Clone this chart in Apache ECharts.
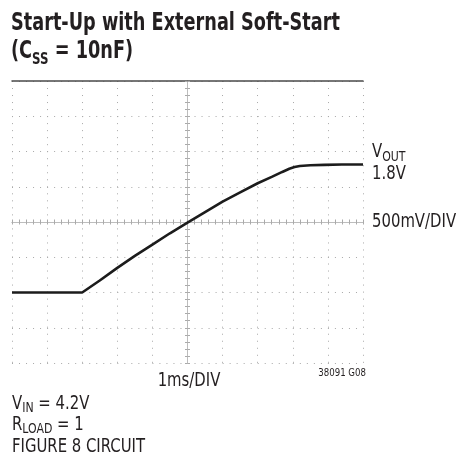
<!DOCTYPE html>
<html>
<head>
<meta charset="utf-8">
<script src="https://cdn.jsdelivr.net/npm/echarts@6/dist/echarts.min.js"></script>
<style>
	html, body { margin: 0; padding: 0; background: #fff; }
	#chart { width: 461px; height: 458px; }
</style>
</head>
<body>
<div id="chart"></div>
<script>
// scope trace, time in ms, output in volts (500mV/div, 1ms/div)
let timeMs = [0, 1, 2, 2.5, 3, 3.5, 4, 4.5, 5, 5.5, 6, 6.5, 7, 7.4, 7.7, 7.9, 8.05, 8.2, 8.5, 8.9, 9.4, 10];
let voutV = [0, 0, 0, 0.17, 0.35, 0.52, 0.68, 0.84, 0.99, 1.14, 1.29, 1.42, 1.55, 1.64, 1.71, 1.755, 1.78, 1.795, 1.805, 1.81, 1.815, 1.815];

// no narrow face installed, so squeeze the condensed one a bit
let font = "'DejaVu Sans Condensed', 'Liberation Sans Narrow', sans-serif";
let ink = "#231f20";
let squeeze = 0.87;

let echarts = window.echarts;
let myChart = echarts.init(document.getElementById("chart"));

let plot = { left: 12, top: 81, width: 351, height: 282 };
let dotted = { color: "#a8a8a8", width: 1, type: [1, 6.02] };
let centerTick = { show: true, length: 2.5, lineStyle: { color: "#aaa", width: 1 } };

let centerAxis = function (pos, range) {
	return {
		gridIndex: 1,
		type: "value",
		position: pos,
		min: -range,
		max: range,
		interval: 1,
		axisLine: { show: true, onZero: true, lineStyle: { color: "#bdbdbd", width: 1 } },
		axisTick: centerTick,
		minorTick: { show: true, splitNumber: 5, length: 2.5, lineStyle: { color: "#aaa" } },
		axisLabel: { show: false },
		splitLine: { show: false },
	};
};

let option = {
	animation: false,
	backgroundColor: "#fff",
	grid: [
		Object.assign({}, plot),
		Object.assign({}, plot),
	],
	xAxis: [
		{
			gridIndex: 0,
			type: "value",
			position: "top",
			min: 0,
			max: 10,
			interval: 1,
			axisLine: { show: true, onZero: false, lineStyle: { color: "#4a4a4a", width: 1.5 } },
			axisTick: { show: false },
			axisLabel: { show: false },
			splitLine: { show: true, lineStyle: dotted },
		},
		centerAxis("bottom", 5),
		centerAxis("top", 5),
	],
	yAxis: [
		{
			gridIndex: 0,
			type: "value",
			min: -1,
			max: 3,
			interval: 0.5,
			axisLine: { show: false },
			axisTick: { show: false },
			axisLabel: { show: false },
			splitLine: { show: true, lineStyle: dotted },
		},
		centerAxis("left", 4),
		centerAxis("right", 4),
	],
	series: [
		{
			name: "VOUT",
			type: "line",
			xAxisIndex: 0,
			yAxisIndex: 0,
			showSymbol: false,
			lineStyle: { color: "#1c1c1c", width: 2.6 },
			data: timeMs.map((t, i) => [t, voutV[i]]),
			z: 5,
		},
	],
	graphic: [
		{
			type: "text",
			x: 11,
			y: 12,
			scaleX: 0.82,
			style: {
				text: "Start-Up with External Soft-Start",
				font: "bold 24px " + font,
				fill: ink,
				verticalAlign: "top",
			},
		},
		{
			type: "text",
			x: 11,
			y: 38,
			scaleX: 0.82,
			style: {
				text: "{b|(C}{s|SS}{b| = 10nF)}",
				fill: ink,
				verticalAlign: "top",
				rich: {
					b: { fontFamily: font, fontWeight: "bold", fontSize: 24, lineHeight: 28, fill: ink },
					s: { fontFamily: font, fontWeight: "bold", fontSize: 16, lineHeight: 16, padding: [15, 0, 0, 0], fill: ink },
				},
			},
		},
		{
			type: "text",
			x: 372,
			y: 141,
			scaleX: squeeze,
			style: {
				text: "{b|V}{s|OUT}\n{b|1.8V}",
				fill: ink,
				verticalAlign: "top",
				rich: {
					b: { fontFamily: font, fontSize: 19, lineHeight: 22, fill: ink },
					s: { fontFamily: font, fontSize: 14, lineHeight: 14, padding: [10, 0, 0, 0], fill: ink },
				},
			},
		},
		{
			type: "text",
			x: 372,
			y: 222,
			scaleX: squeeze,
			style: {
				text: "500mV/DIV",
				font: "19px " + font,
				fill: ink,
				verticalAlign: "middle",
			},
		},
		{
			type: "text",
			x: 189,
			y: 381,
			scaleX: squeeze,
			style: {
				text: "1ms/DIV",
				font: "19px " + font,
				fill: ink,
				align: "center",
				verticalAlign: "middle",
			},
		},
		{
			type: "text",
			x: 366,
			y: 373,
			scaleX: squeeze,
			style: {
				text: "38091 G08",
				font: "11px " + font,
				fill: ink,
				align: "right",
				verticalAlign: "middle",
			},
		},
		{
			type: "text",
			x: 12,
			y: 393,
			scaleX: squeeze,
			style: {
				text: "{b|V}{s|IN}{b| = 4.2V}\n{b|R}{s|LOAD}{b| = 1}\n{b|FIGURE 8 CIRCUIT}",
				fill: ink,
				verticalAlign: "top",
				rich: {
					b: { fontFamily: font, fontSize: 19, lineHeight: 21.5, fill: ink },
					s: { fontFamily: font, fontSize: 14, lineHeight: 14, padding: [9, 0, 0, 0], fill: ink },
				},
			},
		},
	],
};

myChart.setOption(option);
</script>
</body>
</html>
